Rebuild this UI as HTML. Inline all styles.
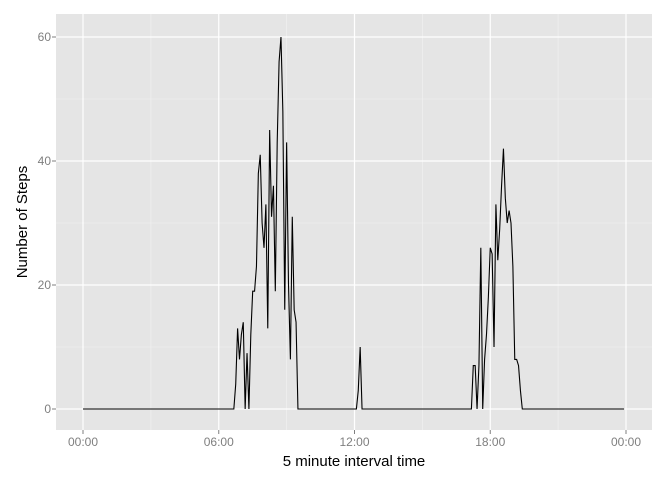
<!DOCTYPE html>
<html><head><meta charset="utf-8"><style>
body{margin:0;background:#fff;}
svg text{font-family:"Liberation Sans",Arial,sans-serif;}
</style></head><body>
<svg id="c" width="672" height="480"></svg>
<script>
const tickLabels=["00:00","06:00","12:00","18:00","00:00"];
const tickMinutes=[0,360,720,1080,1440];
const yTicks=[0,20,40,60];
const morningStart=81;
const morningValues=[4,13,8,12,14,0,9,0,12,19,19,23,38,41,30,26,33,13,45,31,36,19,43,56,60,48,16,43,20,8,31,16,14];
const noonStart=146;
const noonValues=[3,10];
const eveningStart=207;
const eveningValues=[7,7,0,7,26,0,8,12,18,26,25,10,33,24,29,36,42,34,30,32,30,23,8,8,7,3];
const steps=new Array(288).fill(0);
morningValues.forEach((v,i)=>steps[morningStart+i]=v);
noonValues.forEach((v,i)=>steps[noonStart+i]=v);
eveningValues.forEach((v,i)=>steps[eveningStart+i]=v);

const NS="http://www.w3.org/2000/svg";
const svg=document.getElementById('c');
const L=56,R=652,T=14,B=430;
const x=m=>83+m*(543/1440);
const y=v=>409-v*6.2;
function el(t,a,p){const e=document.createElementNS(NS,t);for(const k in a)e.setAttribute(k,a[k]);(p||svg).appendChild(e);return e;}
const panel=el('rect',{x:L,y:T,width:R-L,height:B-T,fill:'#e5e5e5'});


[10,30,50].forEach(v=>{const g=el('line',{x1:L,x2:R,y1:y(v),y2:y(v),stroke:'#f2f2f2','stroke-width':0.6});

});
[180,540,900,1260].forEach(m=>{const g=el('line',{x1:x(m),x2:x(m),y1:T,y2:B,stroke:'#f2f2f2','stroke-width':0.6});

});
yTicks.forEach(v=>{const g=el('line',{x1:L,x2:R,y1:y(v),y2:y(v),stroke:'#fff','stroke-width':1.2});


const t=el('text',{x:L-5,y:y(v)+4,'text-anchor':'end','font-size':12,fill:'#7f7f7f'});t.textContent=v;


el('line',{x1:L-4,x2:L,y1:y(v),y2:y(v),stroke:'#7f7f7f'});});
tickMinutes.forEach((m,i)=>{const g=el('line',{x1:x(m),x2:x(m),y1:T,y2:B,stroke:'#fff','stroke-width':1.2});


el('line',{x1:x(m),x2:x(m),y1:B,y2:B+4,stroke:'#7f7f7f'});
const t=el('text',{x:x(m),y:B+16,'text-anchor':'middle','font-size':12,fill:'#7f7f7f'});t.textContent=tickLabels[i];

});
const d=steps.map((v,i)=>(i?'L':'M')+x(i*5).toFixed(2)+','+y(v).toFixed(2)).join('');
const line=el('path',{d:d,fill:'none',stroke:'#000','stroke-width':1.1});


const xt=el('text',{x:354,y:466,'text-anchor':'middle','font-size':15,fill:'#000'});xt.textContent='5 minute interval time';


const yt=el('text',{x:0,y:0,'text-anchor':'middle','font-size':15,fill:'#000',transform:'translate(27,222) rotate(-90)'});yt.textContent='Number of Steps';


</script>
</body></html>
